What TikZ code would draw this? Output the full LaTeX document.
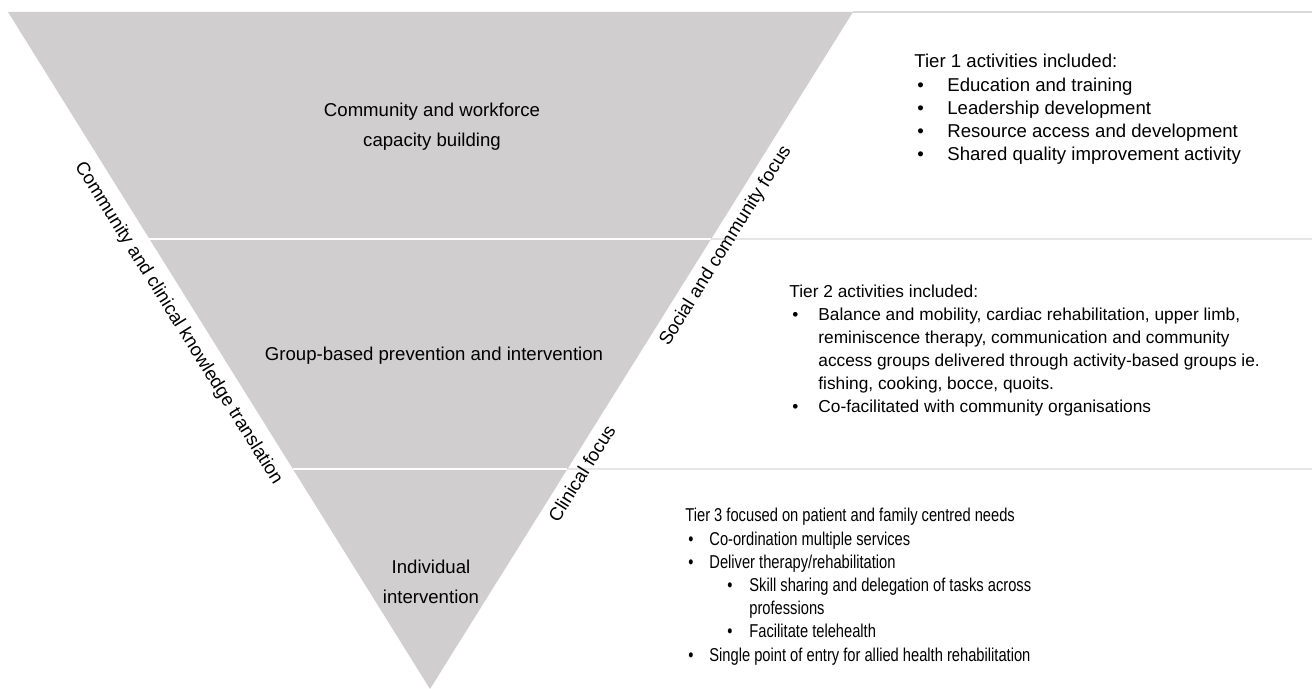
\documentclass[tikz,border=0pt]{standalone}
\usepackage{fontspec}
\setmainfont{Liberation Sans}
\newfontfamily\narrowfont[FakeStretch=0.79]{Liberation Sans}
\usetikzlibrary{calc}
\definecolor{tiergrey}{RGB}{208,206,206}
\definecolor{rulegrey}{RGB}{217,217,217}
\newcommand{\bul}[2][1.5pt]{\makebox[#2][l]{\hspace{#1}\textbullet}}

\begin{document}
\begin{tikzpicture}[
  x=0.5pt, y=-0.5pt,
  tier/.style={fill=tiergrey, draw=none},
  rowrule/.style={draw=rulegrey, line width=0.7pt},
  cutrule/.style={draw=white, line width=0.8pt},
  tierlabel/.style={anchor=base, inner sep=0pt, font=\fontsize{9.3}{15}\selectfont},
  sidelabel/.style={sloped, below, inner sep=3.5pt, font=\fontsize{9.3}{11}\selectfont},
  tierlist/.style={anchor=base west, inner sep=0pt, font=\fontsize{9.3}{11.6}\selectfont}
]
\useasboundingbox (0,0) rectangle (1312,689);

% corners of the inverted triangle
\coordinate (TL) at (8,12);
\coordinate (TR) at (853,12);
\coordinate (apex) at (430,689);
\coordinate (L1) at ($(TL)!0.3353!(apex)$);
\coordinate (R1) at ($(TR)!0.3353!(apex)$);
\coordinate (L2) at ($(TL)!0.675!(apex)$);
\coordinate (R2) at ($(TR)!0.675!(apex)$);
\coordinate (E0) at (1312,12);
\coordinate (E1) at (1312,239);
\coordinate (E2) at (1312,469);

% row rules
\draw[rowrule] (TR) -- (E0);
\draw[rowrule] (R1) -- (E1);
\draw[rowrule] (R2) -- (E2);

\fill[tier] (TL) -- (TR) -- (apex) -- cycle;
\draw[cutrule] (L1) -- (R1);
\draw[cutrule] (L2) -- (R2);

% tier names
\node[tierlabel] (tierA) at (432,117) {\begin{tabular}[t]{@{}c@{}}Community and workforce\\capacity building\end{tabular}};
\node[tierlabel] (tierB) at (434,361) {Group-based prevention and intervention};
\node[tierlabel] (tierC) at (431,574) {\begin{tabular}[t]{@{}c@{}}Individual\\[-0.5pt]intervention\end{tabular}};

% side labels
\path (TL) -- (apex) node[sidelabel, pos=0.444, inner sep=5.5pt] (knowl) {Community and clinical knowledge translation};
\path (apex) -- (TR) node[sidelabel, pos=0.667] (social) {Social and community focus};
\path (apex) -- (TR) node[sidelabel, pos=0.33] (clinic) {Clinical focus};

% activity lists
\node[tierlist] (listA) at (914,68) {\begin{tabular}[t]{@{}l@{}}
Tier 1 activities included:\\
\bul{16.5pt}Education and training\\
\bul{16.5pt}Leadership development\\
\bul{16.5pt}Resource access and development\\
\bul{16.5pt}Shared quality improvement activity
\end{tabular}};

\node[tierlist, font=\fontsize{8.65}{11.5}\selectfont] (listB) at (789,298) {\begin{tabular}[t]{@{}l@{}}
Tier 2 activities included:\\
\bul{14.5pt}Balance and mobility, cardiac rehabilitation, upper limb,\\
\hspace*{14.5pt}reminiscence therapy, communication and community\\
\hspace*{14.5pt}access groups delivered through activity-based groups ie.\\
\hspace*{14.5pt}fishing, cooking, bocce, quoits.\\
\bul{14.5pt}Co-facilitated with community organisations
\end{tabular}};

\node[tierlist, font=\narrowfont\fontsize{9.3}{11.6}\selectfont] (listC) at (685,522) {\begin{tabular}[t]{@{}l@{}}
Tier 3 focused on patient and family centred needs\\
\bul{12pt}Co-ordination multiple services\\
\bul{12pt}Deliver therapy/rehabilitation\\
\bul[21pt]{32pt}Skill sharing and delegation of tasks across\\
\hspace*{32pt}professions\\
\bul[21pt]{32pt}Facilitate telehealth\\
\bul{12pt}Single point of entry for allied health rehabilitation
\end{tabular}};

\end{tikzpicture}
\end{document}
